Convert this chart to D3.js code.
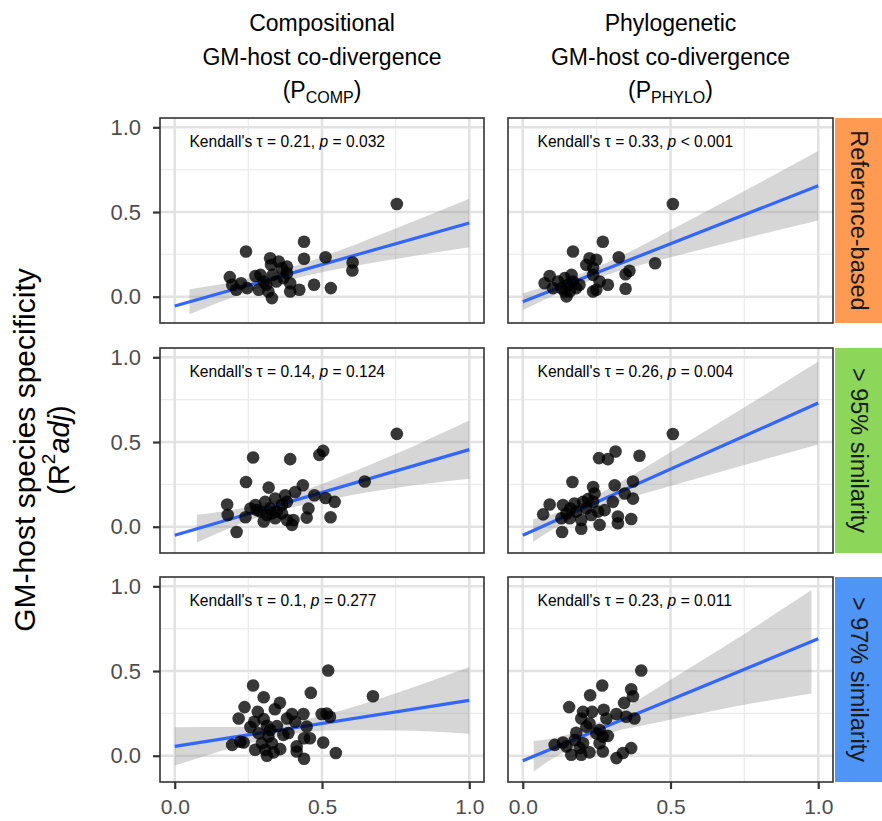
<!DOCTYPE html>
<html>
<head>
<meta charset="utf-8">
<script src="https://cdn.jsdelivr.net/npm/d3@7"></script>
<style>
body { margin: 0; background: #fff; }
text { font-family: "Liberation Sans", Arial, sans-serif; }
</style>
</head>
<body>
<div id="chart"></div>
<script>
// column / row labels
var columnTitles = [
	['Compositional', 'GM-host co-divergence', 'COMP'],
	['Phylogenetic', 'GM-host co-divergence', 'PHYLO']
];
var rowLabels = ['Reference-based', '> 95% similarity', '> 97% similarity'];
var xTicks = [0, 0.5, 1.0];
var yTicks = [0, 0.5, 1.0];
var minorTicks = [0.25, 0.75];

// Kendall annotations
var tauValues = ['0.21', '0.33', '0.14', '0.26', '0.1', '0.23'];
var pValues = ['= 0.032', '< 0.001', '= 0.124', '= 0.004', '= 0.277', '= 0.011'];

// fitted line at x = 0 and x = 1
var fitStart = [-0.055, -0.03, -0.05, -0.05, 0.055, -0.03];
var fitEnd = [0.435, 0.655, 0.455, 0.73, 0.327, 0.69];

// points: reference-based
var refCompX = [0.754,0.242,0.439,0.439,0.512,0.604,0.603,0.530,0.473,0.423,0.392,0.187,0.195,0.209,0.225,0.246,0.274,0.285,0.324,0.327,0.353,0.381,0.381,0.333,0.345,0.311,0.330,0.318,0.302,0.369,0.392,0.291,0.364];
var refCompY = [0.547,0.267,0.325,0.224,0.233,0.202,0.155,0.051,0.071,0.041,0.031,0.116,0.071,0.041,0.080,0.051,0.122,0.041,0.227,0.188,0.208,0.178,0.139,0.129,0.090,0.071,-0.008,0.031,0.090,0.110,0.080,0.129,0.169];
var refPhyloX = [0.508,0.271,0.170,0.325,0.448,0.361,0.348,0.348,0.226,0.249,0.238,0.238,0.260,0.288,0.249,0.091,0.074,0.102,0.142,0.153,0.170,0.181,0.148,0.159,0.131,0.192,0.119,0.238,0.215,0.142,0.165];
var refPhyloY = [0.547,0.325,0.267,0.233,0.198,0.153,0.133,0.047,0.227,0.218,0.169,0.129,0.090,0.071,0.041,0.122,0.080,0.051,0.110,0.071,0.090,0.051,0.002,0.031,0.051,0.071,0.090,0.031,0.188,0.031,0.129];

// points: > 95% similarity
var s95CompX = [0.754,0.504,0.491,0.392,0.266,0.242,0.645,0.319,0.435,0.409,0.375,0.474,0.512,0.543,0.454,0.448,0.529,0.178,0.180,0.240,0.210,0.274,0.291,0.307,0.324,0.341,0.347,0.364,0.381,0.313,0.302,0.341,0.381,0.398,0.403,0.279,0.330,0.364,0.257];
var s95CompY = [0.548,0.448,0.424,0.399,0.409,0.264,0.267,0.231,0.245,0.205,0.186,0.186,0.170,0.147,0.108,0.054,0.056,0.131,0.069,0.056,-0.031,0.128,0.089,0.147,0.108,0.167,0.089,0.128,0.147,0.069,0.031,0.050,0.040,0.011,0.040,0.098,0.079,0.079,0.108];
var s95PhyloX = [0.508,0.314,0.258,0.288,0.395,0.168,0.238,0.311,0.373,0.345,0.373,0.243,0.221,0.305,0.091,0.069,0.136,0.131,0.133,0.161,0.181,0.198,0.198,0.215,0.232,0.255,0.260,0.277,0.322,0.322,0.367,0.159,0.175,0.148,0.204,0.238];
var s95PhyloY = [0.547,0.444,0.405,0.399,0.419,0.264,0.235,0.245,0.267,0.196,0.166,0.196,0.163,0.147,0.131,0.073,0.128,0.050,-0.031,0.108,0.089,0.040,-0.012,0.108,0.069,0.089,0.011,0.098,0.060,0.021,0.046,0.050,0.137,0.079,0.147,0.147];

// points: > 97% similarity
var s97CompX = [0.521,0.266,0.462,0.673,0.302,0.357,0.340,0.237,0.217,0.282,0.270,0.302,0.398,0.437,0.381,0.499,0.527,0.516,0.409,0.448,0.313,0.347,0.369,0.285,0.324,0.386,0.439,0.459,0.504,0.547,0.439,0.414,0.195,0.223,0.234,0.273,0.307,0.313,0.336,0.358,0.296,0.330,0.414,0.318,0.257];
var s97CompY = [0.503,0.415,0.371,0.351,0.345,0.313,0.274,0.287,0.220,0.259,0.201,0.216,0.246,0.246,0.220,0.246,0.230,0.249,0.201,0.172,0.177,0.175,0.123,0.132,0.152,0.134,0.103,0.103,0.078,0.016,-0.018,0.025,0.064,0.083,0.078,0.035,0.035,0.000,0.020,0.039,0.074,0.074,0.055,0.113,0.170];
var s97PhyloX = [0.401,0.269,0.228,0.367,0.373,0.343,0.157,0.204,0.235,0.274,0.317,0.350,0.378,0.198,0.226,0.283,0.260,0.271,0.181,0.108,0.136,0.164,0.198,0.204,0.226,0.260,0.271,0.288,0.317,0.339,0.367,0.176,0.215,0.249,0.193,0.148];
var s97PhyloY = [0.503,0.415,0.357,0.392,0.351,0.312,0.287,0.259,0.259,0.271,0.246,0.230,0.220,0.220,0.191,0.220,0.152,0.113,0.136,0.064,0.078,0.006,0.006,0.074,0.020,0.074,0.025,0.117,-0.014,0.016,0.045,0.093,0.172,0.132,0.045,0.055];

// confidence bands
var refCompBandX = [0.05, 0.2, 0.33, 0.5, 0.75, 1.0];
var refCompBandLo = [-0.104, -0.002, 0.072, 0.145, 0.223, 0.292];
var refCompBandHi = [0.044, 0.088, 0.142, 0.235, 0.403, 0.578];
var refPhyloBandX = [0.0, 0.1, 0.2, 0.35, 0.5, 0.75, 1.0];
var refPhyloBandLo = [-0.08, 0.004, 0.077, 0.165, 0.233, 0.344, 0.45];
var refPhyloBandHi = [0.02, 0.074, 0.137, 0.255, 0.393, 0.624, 0.86];
var s95CompBandX = [0.075, 0.2, 0.33, 0.5, 0.75, 1.0];
var s95CompBandLo = [-0.095, 0.001, 0.082, 0.153, 0.229, 0.283];
var s95CompBandHi = [0.071, 0.101, 0.152, 0.253, 0.429, 0.627];
var s95PhyloBandX = [0.035, 0.1, 0.2, 0.35, 0.5, 0.75, 1.0];
var s95PhyloBandLo = [-0.09, -0.017, 0.071, 0.163, 0.24, 0.365, 0.485];
var s95PhyloBandHi = [0.044, 0.073, 0.141, 0.283, 0.44, 0.705, 0.975];
var s97CompBandX = [0.0, 0.2, 0.38, 0.55, 0.75, 1.0];
var s97CompBandLo = [-0.058, 0.049, 0.123, 0.15, 0.149, 0.13];
var s97CompBandHi = [0.168, 0.169, 0.193, 0.26, 0.369, 0.524];
var s97PhyloBandX = [0.037, 0.1, 0.2, 0.3, 0.45, 0.7, 0.977];
var s97PhyloBandLo = [-0.093, -0.018, 0.074, 0.136, 0.194, 0.284, 0.368];
var s97PhyloBandHi = [0.087, 0.102, 0.154, 0.236, 0.394, 0.664, 0.978];

var width = 882;
var height = 821;
var colRange = [[160, 484], [508, 833]];
var rowRange = [[118, 323], [348, 553], [577, 782]];
var stripRange = [835, 882];
var stripFill = ['#FF9A52', '#8CD65A', '#4F95F5'];
var fontStack = '"Liberation Sans", Arial, sans-serif';

var panels = [
	{x: refCompX, y: refCompY, bx: refCompBandX, lo: refCompBandLo, hi: refCompBandHi},
	{x: refPhyloX, y: refPhyloY, bx: refPhyloBandX, lo: refPhyloBandLo, hi: refPhyloBandHi},
	{x: s95CompX, y: s95CompY, bx: s95CompBandX, lo: s95CompBandLo, hi: s95CompBandHi},
	{x: s95PhyloX, y: s95PhyloY, bx: s95PhyloBandX, lo: s95PhyloBandLo, hi: s95PhyloBandHi},
	{x: s97CompX, y: s97CompY, bx: s97CompBandX, lo: s97CompBandLo, hi: s97CompBandHi},
	{x: s97PhyloX, y: s97PhyloY, bx: s97PhyloBandX, lo: s97PhyloBandLo, hi: s97PhyloBandHi}
];

var svg = d3.select('#chart')
	.append('svg')
	.attr('width', width)
	.attr('height', height);

panels.forEach(function(p, i) {
	var row = Math.floor(i / 2), col = i % 2;
	var x = d3.scaleLinear().domain([-0.05, 1.05]).range(colRange[col]);
	var y = d3.scaleLinear().domain([-0.155, 1.055]).range([rowRange[row][1], rowRange[row][0]]);
	var x0 = colRange[col][0], x1 = colRange[col][1];
	var y0 = rowRange[row][0], y1 = rowRange[row][1];

	var g = svg.append('g');

	// grid
	g.selectAll('.minor-v').data(minorTicks).enter().append('line')
		.attr('x1', function(d) {return x(d);}).attr('x2', function(d) {return x(d);})
		.attr('y1', y0).attr('y2', y1)
		.attr('stroke', '#ececec').attr('stroke-width', 1.4);
	g.selectAll('.minor-h').data(minorTicks).enter().append('line')
		.attr('y1', function(d) {return y(d);}).attr('y2', function(d) {return y(d);})
		.attr('x1', x0).attr('x2', x1)
		.attr('stroke', '#ececec').attr('stroke-width', 1.4);
	g.selectAll('.major-v').data(xTicks).enter().append('line')
		.attr('x1', function(d) {return x(d);}).attr('x2', function(d) {return x(d);})
		.attr('y1', y0).attr('y2', y1)
		.attr('stroke', '#e2e2e2').attr('stroke-width', 2.6);
	g.selectAll('.major-h').data(yTicks).enter().append('line')
		.attr('y1', function(d) {return y(d);}).attr('y2', function(d) {return y(d);})
		.attr('x1', x0).attr('x2', x1)
		.attr('stroke', '#e2e2e2').attr('stroke-width', 2.6);

	// confidence band
	var band = p.bx.map(function(d, j) {return {x: d, lo: p.lo[j], hi: p.hi[j]};});
	g.append('path')
		.datum(band)
		.attr('d', d3.area()
			.x(function(d) {return x(d.x);})
			.y0(function(d) {return y(d.lo);})
			.y1(function(d) {return y(d.hi);})
			.curve(d3.curveMonotoneX))
		.attr('fill', '#999999')
		.attr('fill-opacity', 0.4);

	// fitted line
	g.append('path')
		.datum([[0, fitStart[i]], [1, fitEnd[i]]])
		.attr('d', d3.line().x(function(d) {return x(d[0]);}).y(function(d) {return y(d[1]);}))
		.attr('stroke', '#3366FF')
		.attr('stroke-width', 3.2)
		.attr('fill', 'none');

	// points
	g.selectAll('circle')
		.data(p.x.map(function(d, j) {return [d, p.y[j]];}))
		.enter().append('circle')
		.attr('cx', function(d) {return x(d[0]);})
		.attr('cy', function(d) {return y(d[1]);})
		.attr('r', 6.3)
		.attr('fill', '#000')
		.attr('fill-opacity', 0.78);

	// annotation
	var label = g.append('text')
		.attr('x', x(0.05))
		.attr('y', y0 + 29)
		.attr('font-size', '15.6px')
		.attr('fill', '#000');
	label.append('tspan').text("Kendall's \u03C4 = " + tauValues[i] + ', ');
	label.append('tspan').attr('font-style', 'italic').text('p');
	label.append('tspan').text(' ' + pValues[i]);

	// border
	g.append('rect')
		.attr('x', x0).attr('y', y0)
		.attr('width', x1 - x0).attr('height', y1 - y0)
		.attr('fill', 'none')
		.attr('stroke', '#333')
		.attr('stroke-width', 1.6);

	// axes
	if (col == 0) {
		var yAxis = d3.axisLeft(y).tickValues(yTicks).tickFormat(d3.format('.1f')).tickSize(7).tickPadding(12);
		var ya = g.append('g').attr('transform', 'translate(' + x0 + ',0)').call(yAxis);
		ya.select('.domain').remove();
		ya.selectAll('line').attr('stroke', '#333').attr('stroke-width', 2.2);
		ya.selectAll('text').attr('font-size', '22px').attr('fill', '#4d4d4d').attr('font-family', fontStack);
	}
	if (row == 2) {
		var xAxis = d3.axisBottom(x).tickValues(xTicks).tickFormat(d3.format('.1f')).tickSize(7).tickPadding(10);
		var xa = g.append('g').attr('transform', 'translate(0,' + y1 + ')').call(xAxis);
		xa.select('.domain').remove();
		xa.selectAll('line').attr('stroke', '#333').attr('stroke-width', 2.2);
		xa.selectAll('text').attr('font-size', '21px').attr('fill', '#4d4d4d').attr('font-family', fontStack);
	}

	// strip on the right
	if (col == 1) {
		svg.append('rect')
			.attr('x', stripRange[0]).attr('y', y0)
			.attr('width', stripRange[1] - stripRange[0]).attr('height', y1 - y0)
			.attr('fill', stripFill[row]);
		svg.append('text')
			.attr('transform', 'translate(' + ((stripRange[0] + stripRange[1]) / 2) + ',' + ((y0 + y1) / 2) + ') rotate(90)')
			.attr('text-anchor', 'middle')
			.attr('dominant-baseline', 'central')
			.attr('font-size', '23.5px')
			.attr('fill', '#1a1a1a')
			.text(rowLabels[row]);
	}
});

// column titles
columnTitles.forEach(function(t, c) {
	var cx = (colRange[c][0] + colRange[c][1]) / 2;
	var title = svg.append('text')
		.attr('text-anchor', 'middle')
		.attr('font-size', '23px')
		.attr('fill', '#000');
	title.append('tspan').attr('x', cx).attr('y', 31).text(t[0]);
	title.append('tspan').attr('x', cx).attr('y', 65).text(t[1]);
	var third = title.append('tspan').attr('x', cx).attr('y', 98);
	third.append('tspan').text('(P');
	third.append('tspan').attr('font-size', '16px').attr('dy', 5).text(t[2]);
	third.append('tspan').attr('dy', -5).text(')');
});

// y axis title
var midY = (rowRange[0][0] + rowRange[2][1]) / 2;
svg.append('text')
	.attr('transform', 'translate(24,' + midY + ') rotate(-90)')
	.attr('text-anchor', 'middle')
	.attr('dominant-baseline', 'central')
	.attr('font-size', '30px')
	.text('GM-host species specificity');
var sub = svg.append('text')
	.attr('transform', 'translate(59,' + midY + ') rotate(-90)')
	.attr('text-anchor', 'middle')
	.attr('dominant-baseline', 'central')
	.attr('font-size', '29px');
sub.append('tspan').text('(R');
sub.append('tspan').attr('font-size', '19px').attr('dy', -11).text('2');
sub.append('tspan').attr('dy', 11).attr('font-style', 'italic').text('adj');
sub.append('tspan').text(')');
</script>
</body>
</html>
